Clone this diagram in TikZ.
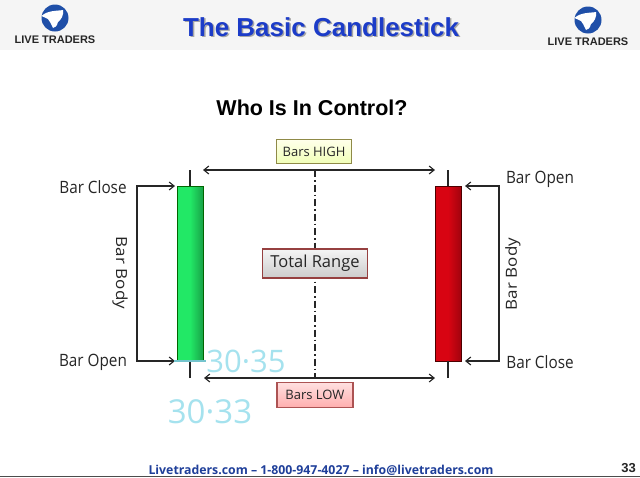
\documentclass[tikz,border=0pt]{standalone}
\usepackage{fontspec}
\usepackage{xcolor}
\setmainfont{Open Sans}
\newfontfamily\headfont{Liberation Sans}
\usetikzlibrary{arrows.meta}
\definecolor{titleblue}{HTML}{1C3CC8}
\definecolor{footblue}{HTML}{1F3F9A}
\definecolor{logoblue}{HTML}{1F4FA8}
\definecolor{penblue}{HTML}{A5E2EE}
\definecolor{barGreen}{HTML}{22E866}
\definecolor{barRed}{HTML}{D80412}
\tikzset{
  logo/.pic = {
    \fill[logoblue] (0,0) circle (13.5);
    \fill[white] (-13.6,-2) .. controls (-7,-8) and (3,-7) .. (8,-8)
      .. controls (9,-3) and (6,2) .. (3,4) .. controls (2,8) and (0,10) .. (-2,10)
      .. controls (-4,6) and (-5,3) .. (-7,1) .. controls (-9,0) and (-11,-1) .. (-13.6,-2);
    \node[font=\headfont\bfseries\fontsize{11}{12}\selectfont, text=black!85] at (0,21.5) {LIVE TRADERS};
  }
}
\begin{document}
\begin{tikzpicture}[
  x = 1pt, y = -1pt,
  every node/.style = {inner sep = 0pt, outer sep = 0pt},
  barlabel/.style = {font = \fontsize{17}{20}\selectfont, text = black!85, xscale = 0.9},
  tagbox/.style = {draw = #1, line width = 1.5pt, font = \fontsize{13}{15}\selectfont, text = black!85},
  body/.style = {draw = #1, line width = 1pt, minimum width = 26pt, minimum height = 175pt},
  wire/.style = {line width = 1.1pt, black!85},
  span/.style = {wire, {Straight Barb[length=5pt, width=8pt]}-{Straight Barb[length=5pt, width=8pt]}},
  pen/.style = {text = penblue, font = \fontsize{#1}{36}\selectfont}
  ]
  \useasboundingbox (0,0) rectangle (640,477);
  \fill[white] (0,0) rectangle (640,477);
  \fill[black!4] (0,0) rectangle (640,50);
  \pic at (55,18) {logo};
  \pic at (588,20) {logo};
  \node (shadow) [font = \headfont\bfseries\fontsize{26}{30}\selectfont, text = black!35] at (322.5,28) {The Basic Candlestick};
  \node (title) [font = \headfont\bfseries\fontsize{26}{30}\selectfont, text = titleblue] at (321,27) {The Basic Candlestick};
  \node (question) [font = \headfont\bfseries\fontsize{21.5}{24}\selectfont, text = black] at (312,108) {Who Is In Control?};

  \node (green) [body = {black!60!green}, left color = barGreen, right color = barGreen!70!black, middle color = barGreen] at (190,273.5) {};
  \node (red) [body = {red!30!black}, left color = barRed, right color = barRed!75!black, middle color = barRed] at (448,273.5) {};
  \coordinate (greentop) at (190,170);
  \coordinate (greenlow) at (190,378);
  \coordinate (redtop) at (448,170);
  \coordinate (redlow) at (448,378);
  \draw[wire] (greentop) -- (green.north);
  \draw[wire] (greenlow) -- (green.south);
  \draw[wire] (redtop) -- (red.north);
  \draw[wire] (redlow) -- (red.south);

  \coordinate (highleft) at (203,170);
  \coordinate (highright) at (435,170);
  \coordinate (lowleft) at (204,378);
  \coordinate (lowright) at (435,378);
  \coordinate (midtop) at (315,170);
  \coordinate (midlow) at (315,378);
  \draw[span] (highleft) -- (highright);
  \draw[span] (lowleft) -- (lowright);
  \draw[wire, dash pattern = on 7pt off 3pt on 1.5pt off 3pt] (midtop) -- (midlow);

  \node (high) [tagbox = {olive!50!gray}, top color = yellow!8, bottom color = green!20!yellow!28, minimum width = 75pt, minimum height = 24pt] at (314,151.5) {Bars HIGH};
  \node (range) [tagbox = {red!45!black!75}, top color = black!4, bottom color = black!20, minimum width = 105pt, minimum height = 29pt, font = \fontsize{16.5}{20}\selectfont] at (315,263.5) {Total Range};
  \node (low) [tagbox = {red!35!gray}, top color = red!12, bottom color = red!32, minimum width = 76pt, minimum height = 25pt] at (315,395) {Bars LOW};

  \node (leftclose) [barlabel] at (93,187) {Bar Close};
  \node (leftopen) [barlabel] at (93,362) {Bar Open};
  \node (rightopen) [barlabel] at (540,179) {Bar Open};
  \node (rightclose) [barlabel] at (540,362) {Bar Close};
  \node (leftbody) [barlabel, rotate = -90] at (120,273) {Bar Body};
  \node (rightbody) [barlabel, rotate = 90] at (513,274) {Bar Body};

  \coordinate (leftelbowtop) at (137,186);
  \coordinate (leftelbowlow) at (137,361);
  \coordinate (rightelbowtop) at (499,186);
  \coordinate (rightelbowlow) at (499,361);
  \draw[span] ([xshift=-2pt]green.north west) -- (leftelbowtop) -- (leftelbowlow) -- ([xshift=-2pt]green.south west);
  \draw[span] ([xshift=4pt]red.north east) -- (rightelbowtop) -- (rightelbowlow) -- ([xshift=4pt]red.south east);

  \draw[line width = 2pt, penblue!70!teal] ([xshift=-3pt]green.south west) -- ([xshift=3pt]green.south east);
  \node (first) [pen = 31] at (246,361) {30·35};
  \node (second) [pen = 33] at (210,412) {30·33};

  \node (foot) [font = \fontsize{12.3}{15}\bfseries\selectfont, text = footblue] at (321,470) {Livetraders.com – 1-800-947-4027 – info@livetraders.com};
  \node (page) [font = \headfont\bfseries\fontsize{13}{14}\selectfont, text = black!85] at (628.5,468) {33};
  \fill[black!70] (0,476) rectangle (640,477);
\end{tikzpicture}
\end{document}
